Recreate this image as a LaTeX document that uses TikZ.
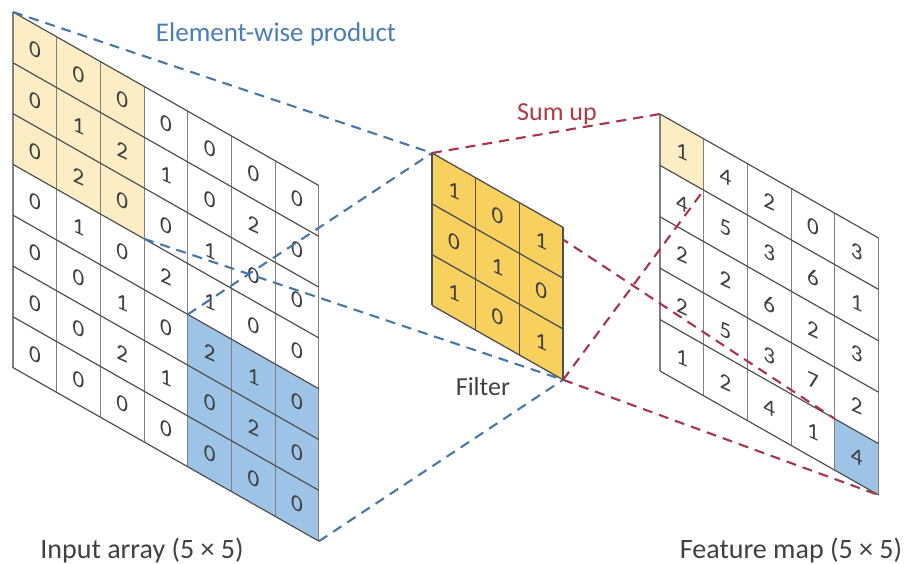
\documentclass[tikz,border=0pt]{standalone}
\usepackage{fontspec}
\setmainfont{Carlito}
\definecolor{paleY}{HTML}{FCEDC4}
\definecolor{goldF}{HTML}{F7D05E}
\definecolor{lblue}{HTML}{9DC3E6}
\definecolor{dblue}{HTML}{4677A8}
\definecolor{dred}{HTML}{A8344A}
\definecolor{txtblue}{HTML}{4A7DB4}
\definecolor{txtred}{HTML}{B03A48}
\definecolor{txtgray}{HTML}{404040}
\definecolor{hline}{HTML}{505050}
\definecolor{vline}{HTML}{808080}
\tikzset{
  hgrid/.style={draw=hline, line width=1.2pt},
  vgrid/.style={draw=vline, line width=1.1pt},
  fgrid/.style={draw=hline, line width=1.3pt},
  digit/.style={text=txtgray, font=\fontsize{23}{23}\selectfont, inner sep=0pt, yslant=-0.45},
  bluedash/.style={draw=dblue, line width=2.1pt, dash pattern=on 10pt off 7pt},
  reddash/.style={draw=dred, line width=2.1pt, dash pattern=on 10pt off 7pt},
  lbltext/.style={text=txtgray, font=\fontsize{28}{30}\selectfont, inner sep=0pt, anchor=base},
}
\begin{document}
\begin{tikzpicture}[x=1pt,y=-1pt]
\useasboundingbox (0,0) rectangle (908,564);

% ---------- input array ----------
\begin{scope}[shift={(13,12)}, x={(43.7pt,-24.8pt)}, y={(0pt,-50.8pt)}]
  \fill[paleY] (0,0) -- (3,0) -- (3,3) -- (0,3) -- cycle;
  \fill[lblue] (4,4) -- (7,4) -- (7,7) -- (4,7) -- cycle;
  \foreach \i in {0,...,7} \draw[vgrid] (\i,0) -- (\i,7);
  \foreach \j in {0,...,7} \draw[hgrid] (0,\j) -- (7,\j);
  \foreach \row [count=\j from 0] in {{0,0,0,0,0,0,0},{0,1,2,1,0,2,0},{0,2,0,0,1,0,0},{0,1,0,2,1,0,0},{0,0,1,0,2,1,0},{0,0,2,1,0,2,0},{0,0,0,0,0,0,0}}
    \foreach \v [count=\i from 0] in \row
      \node[digit] (in-\i-\j) at (\i+0.5,\j+0.5) {\v};
  \coordinate (inTL) at (0,0);
  \coordinate (inY) at (3,3);
  \coordinate (inB) at (4,4);
  \coordinate (inBR) at (7,7);
\end{scope}

% ---------- feature map ----------
\begin{scope}[shift={(660,114)}, x={(43.7pt,-24.8pt)}, y={(0pt,-51.4pt)}]
  \fill[paleY] (0,0) -- (1,0) -- (1,1) -- (0,1) -- cycle;
  \fill[lblue] (4,4) -- (5,4) -- (5,5) -- (4,5) -- cycle;
  \foreach \i in {0,...,5} \draw[vgrid] (\i,0) -- (\i,5);
  \foreach \j in {0,...,5} \draw[hgrid] (0,\j) -- (5,\j);
  \foreach \row [count=\j from 0] in {{1,4,2,0,3},{4,5,3,6,1},{2,2,6,2,3},{2,5,3,7,2},{1,2,4,1,4}}
    \foreach \v [count=\i from 0] in \row
      \node[digit] (fm-\i-\j) at (\i+0.5,\j+0.5) {\v};
  \coordinate (mTL) at (0,0);
  \coordinate (mY) at (1,1);
  \coordinate (mB) at (4,4);
  \coordinate (mBR) at (5,5);
\end{scope}

% ---------- filter corners ----------
\begin{scope}[shift={(432,153)}, x={(43.7pt,-24.8pt)}, y={(0pt,-50.8pt)}]
  \coordinate (fTL) at (0,0);
  \coordinate (fBR) at (3,3);
\end{scope}

% ---------- dashed connectors ----------
\draw[bluedash] (inTL) -- (fTL);
\draw[bluedash] (inY) -- (fBR);
\draw[bluedash] (inB) -- (fTL);
\draw[bluedash] (inBR) -- (fBR);
\draw[reddash] (fTL) -- (mTL);
\draw[reddash] (fTL) -- (mB);
\draw[reddash] (fBR) -- (mY);
\draw[reddash] (fBR) -- (mBR);

% ---------- filter ----------
\begin{scope}[shift={(432,153)}, x={(43.7pt,-24.8pt)}, y={(0pt,-50.8pt)}]
  \fill[goldF] (0,0) -- (3,0) -- (3,3) -- (0,3) -- cycle;
  \foreach \i in {0,...,3} \draw[fgrid] (\i,0) -- (\i,3);
  \foreach \j in {0,...,3} \draw[fgrid] (0,\j) -- (3,\j);
  \foreach \row [count=\j from 0] in {{1,0,1},{0,1,0},{1,0,1}}
    \foreach \v [count=\i from 0] in \row
      \node[digit] (fl-\i-\j) at (\i+0.5,\j+0.5) {\v};
\end{scope}

% ---------- labels ----------
\node[lbltext, text=txtblue, font=\fontsize{27}{30}\selectfont] (lblElem) at (276,42) {Element-wise product};
\node[lbltext, text=txtred, font=\fontsize{26}{30}\selectfont] (lblSum) at (557,121) {Sum up};
\node[lbltext, font=\fontsize{26}{30}\selectfont] (lblFilter) at (483,395) {Filter};
\node[lbltext] (lblIn) at (142,558) {Input array (5 × 5)};
\node[lbltext] (lblOut) at (791,558) {Feature map (5 × 5)};
\end{tikzpicture}
\end{document}
